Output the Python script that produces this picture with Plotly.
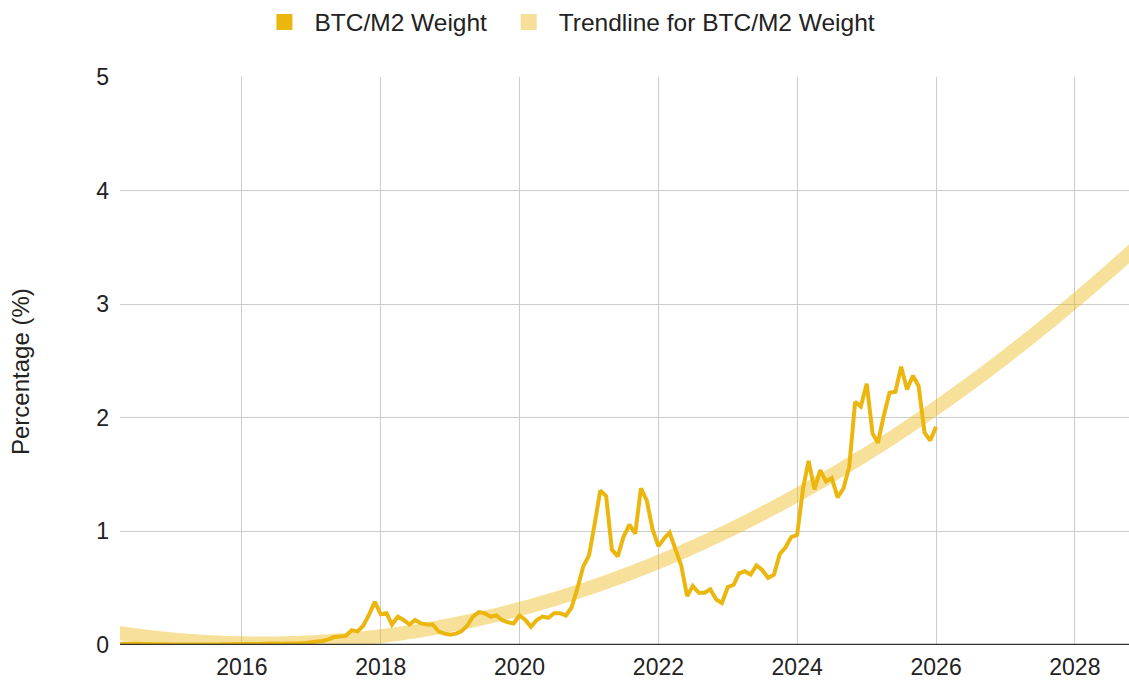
import numpy as np
import pandas as pd
import plotly.graph_objects as go

# Monthly BTC/M2 weight (%) starting April 2014
y2014 = [0.012, 0.010, 0.011, 0.011, 0.009, 0.008, 0.007, 0.007, 0.006]
y2015 = [0.005, 0.005, 0.005, 0.004, 0.004, 0.005, 0.005, 0.004, 0.005, 0.006, 0.007, 0.008]
y2016 = [0.008, 0.008, 0.008, 0.008, 0.010, 0.013, 0.013, 0.012, 0.013, 0.014, 0.015, 0.018]
y2017 = [0.025, 0.03, 0.035, 0.05, 0.07, 0.075, 0.08, 0.13, 0.12, 0.17, 0.27, 0.38]
y2018 = [0.27, 0.28, 0.18, 0.25, 0.22, 0.18, 0.22, 0.19, 0.18, 0.18, 0.12, 0.10]
y2019 = [0.09, 0.10, 0.12, 0.17, 0.25, 0.29, 0.28, 0.25, 0.26, 0.22, 0.20, 0.19]
y2020 = [0.26, 0.22, 0.16, 0.22, 0.25, 0.24, 0.28, 0.28, 0.26, 0.33, 0.50, 0.69]
y2021 = [0.79, 1.08, 1.36, 1.31, 0.84, 0.78, 0.95, 1.06, 0.98, 1.38, 1.27, 1.02]
y2022 = [0.87, 0.94, 0.99, 0.84, 0.70, 0.43, 0.52, 0.46, 0.46, 0.49, 0.40, 0.37]
y2023 = [0.51, 0.53, 0.63, 0.65, 0.62, 0.70, 0.66, 0.59, 0.62, 0.80, 0.86, 0.95]
y2024 = [0.97, 1.38, 1.62, 1.37, 1.54, 1.44, 1.47, 1.30, 1.38, 1.57, 2.14, 2.10]
y2025 = [2.30, 1.86, 1.78, 2.02, 2.22, 2.23, 2.45, 2.25, 2.37, 2.28, 1.87, 1.80]
y2026 = [1.92]

values = y2014 + y2015 + y2016 + y2017 + y2018 + y2019 + y2020 + y2021 + y2022 + y2023 + y2024 + y2025 + y2026
dates = pd.date_range("2014-04-01", periods=len(values), freq="MS")

series_name = "BTC/M2 Weight"
trend_name = "Trendline for BTC/M2 Weight"
y_title = "Percentage (%)"
tick_years = ["2016", "2018", "2020", "2022", "2024", "2026", "2028"]

# Polynomial (degree 2) trendline computed from the data
def frac_year(d):
    return d.year + (d.dayofyear - 1) / 365.25

t = np.array([frac_year(d) for d in dates])
coef = np.polyfit(t, np.array(values), 2)
trend_dates = pd.date_range("2014-03-01", "2028-12-01", freq="MS")
trend_vals = np.polyval(coef, np.array([frac_year(d) for d in trend_dates]))

LINE = "#ebb70f"
TREND = "rgba(235,183,15,0.42)"
FONT = "Liberation Sans, Arial, sans-serif"

fig = go.Figure()
fig.add_trace(go.Scatter(x=trend_dates, y=trend_vals, mode="lines",
                         line=dict(color=TREND, width=14, simplify=False, shape="spline"),
                         showlegend=False, name=trend_name, hoverinfo="skip"))
fig.add_trace(go.Scatter(x=dates, y=values, mode="lines",
                         line=dict(color=LINE, width=4, simplify=False), showlegend=False,
                         name=series_name))
# legend swatches
fig.add_trace(go.Scatter(x=[None], y=[None], mode="markers", name=series_name + "\u00a0",
                         marker=dict(symbol="square", size=17, color=LINE)))
fig.add_trace(go.Scatter(x=[None], y=[None], mode="markers", name=trend_name,
                         marker=dict(symbol="square", size=17, color="#f5df9a")))

fig.update_layout(
    width=1129, height=681,
    margin=dict(l=120, r=0, t=77, b=36, autoexpand=False),
    paper_bgcolor="white", plot_bgcolor="white",
    font=dict(family=FONT, size=23, color="#222222"),
    legend=dict(orientation="h", xref="container", yref="container",
                x=0.5026, y=0.9677, xanchor="center", yanchor="middle",
                font=dict(size=24.5, color="#222222"), itemwidth=50,
                traceorder="normal"),
    xaxis=dict(type="date", range=["2014-03-31", "2028-10-12"],
               tickvals=[f"{y}-01-01" for y in tick_years], ticktext=tick_years,
               showgrid=True, gridcolor="#cccccc", gridwidth=1.3,
               showline=False, zeroline=False, ticks="", automargin=False,
               ticklabelstandoff=6,
               tickfont=dict(size=23, color="#222222")),
    yaxis=dict(range=[0, 5], tickvals=[0, 1, 2, 3, 4, 5],
               showgrid=True, gridcolor="#cccccc", gridwidth=1.3,
               zeroline=False, showline=False, ticks="", ticklabelstandoff=10,
               automargin=False,
               tickfont=dict(size=23, color="#222222")),
    showlegend=True,
    annotations=[dict(text=y_title, xref="paper", yref="paper",
                      x=-0.0991, y=0.4806, xanchor="center", yanchor="middle",
                      textangle=-90, showarrow=False,
                      font=dict(size=24, color="#222222", family=FONT))],
)
fig.add_hline(y=0, line=dict(color="#333333", width=2.5), layer="above")

fig.write_html("out.html", config={"displayModeBar": False},
               post_script="document.body.style.margin='0';document.body.style.overflow='hidden';")
